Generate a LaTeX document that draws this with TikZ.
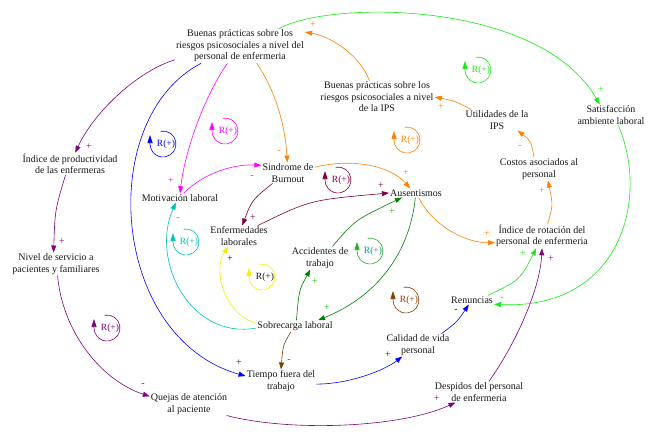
\documentclass[tikz,border=0pt]{standalone}
\usepackage{fontspec}
\setmainfont{Liberation Serif}
\usetikzlibrary{arrows.meta}
\definecolor{clime}{RGB}{20,235,20}
\definecolor{corange}{RGB}{255,128,0}
\definecolor{cmagenta}{RGB}{255,0,255}
\definecolor{cpurple}{RGB}{128,0,128}
\definecolor{cblue}{RGB}{0,0,255}
\definecolor{cdkgreen}{RGB}{0,128,0}
\definecolor{cbrown}{RGB}{128,64,0}
\definecolor{cmaroon}{RGB}{128,0,64}
\definecolor{ccyan}{RGB}{0,192,192}
\definecolor{cyellow}{RGB}{240,240,0}
\definecolor{cloopgreen}{RGB}{40,170,40}
\definecolor{cteal}{RGB}{0,160,128}
\definecolor{ctext}{RGB}{25,25,25}

% reinforcing-loop marker: name, x, y, circle colour, text colour
\newcommand\rloopmark[5]{%
  \node[rtxt,text=#5] (#1) at (#2+3,#3) {R(+)};
  \draw[#4,line width=0.6pt,-{Triangle[length=8pt,width=5pt]}]
    (#2,#3) ++(100:13pt) arc[start angle=100,end angle=-180,radius=13pt] -- ++(0,-9);
}

\begin{document}
\begin{tikzpicture}[x=1pt,y=-1pt,
  lbl/.style={align=center,font=\fontsize{10}{11.5}\selectfont,inner sep=1pt,text=ctext},
  sgn/.style={font=\fontsize{10}{10}\selectfont,inner sep=0pt},
  conn/.style={line width=0.6pt,-{Triangle[length=7pt,width=5pt]}},
  rtxt/.style={font=\fontsize{9.5}{10}\selectfont,inner sep=0pt}]
\useasboundingbox[fill=white] (0,0) rectangle (652,431);

% variables
\node[lbl] (b1) at (240,46) {Buenas prácticas sobre los\\riesgos psicosociales a nivel del\\personal de enfermeria};
\node[lbl] (b2) at (377,97) {Buenas prácticas sobre los\\riesgos psicosociales a nivel\\de la IPS};
\node[lbl] (util) at (497,120) {Utilidades de la\\IPS};
\node[lbl] (satis) at (611,115) {Satisfacción\\ambiente laboral};
\node[lbl] (costos) at (539,169) {Costos asociados al\\personal};
\node[lbl] (rot) at (542,236) {Índice de rotación del\\personal de enfermeria};
\node[lbl] (aus) at (416,193) {Ausentismos};
\node[lbl] (sind) at (288,173) {Sindrome de\\Burnout};
\node[lbl] (mot) at (180,198) {Motivación laboral};
\node[lbl] (enf) at (239,236) {Enfermedades\\laborales};
\node[lbl] (prod) at (70,164) {Índice de productividad\\de las enfermeras};
\node[lbl] (niv) at (56,264) {Nivel de servicio a\\pacientes y familiares};
\node[lbl] (acc) at (320,258) {Accidentes de\\trabajo};
\node[lbl] (sob) at (295,326) {Sobrecarga laboral};
\node[lbl] (tiem) at (281,381) {Tiempo fuera del\\trabajo};
\node[lbl] (cal) at (418,345) {Calidad de vida\\personal};
\node[lbl] (ren) at (472,300) {Renuncias};
\node[lbl] (desp) at (479,392) {Despidos del personal\\de enfermeria};
\node[lbl] (quej) at (189,404) {Quejas de atención\\al paciente};

% causal links
\draw[conn,clime] (b1.24) .. controls (330,0) and (540,0) .. (satis.137);
\draw[conn,corange] (b2.115) .. controls (360,55) and (330,36) .. (b1.12);
\draw[conn,corange] (util.158) .. controls (455,101) .. (b2.0);
\draw[conn,corange] (costos.113) .. controls (531,141) .. (util.-27);
\draw[conn,corange] (rot.65) .. controls (553,205) .. (costos.-52);
\draw[conn,corange] (aus.-60) .. controls (432,225) and (465,243) .. (rot.188);
\draw[conn,corange] (sind.12) .. controls (350,158) and (390,165) .. (aus.142);
\draw[conn,corange] (b1.-46) .. controls (272,85) and (285,120) .. (sind.94);
\draw[conn,cmagenta] (b1.-126) .. controls (205,95) and (185,150) .. (mot.90);
\draw[conn,cmagenta] (mot.53) .. controls (205,172) and (235,164) .. (sind.164);
\draw[conn,cpurple] (b1.-168) .. controls (140,70) and (95,110) .. (prod.65);
\draw[conn,cpurple] (prod.-112) .. controls (55,210) .. (niv.102);
\draw[conn,cpurple] (niv.-82) .. controls (62,330) and (100,380) .. (quej.169);
\draw[conn,cpurple] (quej.-17) .. controls (290,432) and (400,428) .. (desp.204);
\draw[conn,cpurple] (desp.47) .. controls (515,345) and (540,290) .. (rot.-90);
\draw[conn,cblue] (b1.-156) .. controls (95,118) and (110,338) .. (tiem.172);
\draw[conn,cblue] (tiem.-5) .. controls (350,384) and (385,370) .. (cal.216);
\draw[conn,cblue] (cal.26) .. controls (457,322) .. (ren.-125);
\draw[conn,clime] (satis.-55) .. controls (650,200) and (620,310) .. (ren.-11);
\draw[conn,clime] (ren.16) .. controls (520,280) .. (rot.-115);
\draw[conn,cdkgreen] (acc.43) .. controls (355,220) .. (aus.198);
\draw[conn,cdkgreen] (aus.-98) .. controls (410,250) and (380,295) .. (sob.14);
\draw[conn,cdkgreen] (sob.76) .. controls (299,290) .. (acc.-130);
\draw[conn,cbrown] (sob.-125) .. controls (283,345) .. (tiem.90);
\draw[conn,cyellow] (sob.176) .. controls (225,315) and (212,270) .. (enf.-135);
\draw[conn,ccyan] (sob.183) .. controls (190,340) and (150,260) .. (mot.-131);
\draw[conn,cmaroon] (sind.-146) .. controls (252,200) .. (enf.73);
\draw[conn,cmaroon] (enf.29) .. controls (310,200) .. (aus.180);

% link polarities
\node[sgn,text=clime] (s1) at (601,90) {+};
\node[sgn,text=corange] (s2) at (313,25) {+};
\node[sgn,text=corange] (s3) at (441,107) {+};
\node[sgn,text=corange] (s4) at (520,147) {-};
\node[sgn,text=corange] (s5) at (542,191) {+};
\node[sgn,text=corange] (s6) at (487,234) {+};
\node[sgn,text=corange] (s7) at (406,173) {+};
\node[sgn,text=corange] (s8) at (279,152) {-};
\node[sgn,text=cmagenta] (s9) at (171,181) {+};
\node[sgn,text=cmagenta] (s10) at (252,177) {-};
\node[sgn,text=cpurple] (s11) at (89,147) {+};
\node[sgn,text=cpurple] (s12) at (62,242) {+};
\node[sgn,text=cpurple] (s13) at (143,385) {-};
\node[sgn,text=cpurple] (s14) at (437,399) {+};
\node[sgn,text=cpurple] (s15) at (551,259) {+};
\node[sgn,text=ctext] (s16) at (239,363) {+};
\node[sgn,text=ctext] (s17) at (388,355) {+};
\node[sgn,text=ctext] (s18) at (456,311) {-};
\node[sgn,text=clime] (s19) at (502,299) {-};
\node[sgn,text=clime] (s20) at (523,254) {+};
\node[sgn,text=cloopgreen] (s21) at (392,212) {+};
\node[sgn,text=cloopgreen] (s22) at (327,308) {+};
\node[sgn,text=cloopgreen] (s23) at (315,282) {+};
\node[sgn,text=cbrown] (s24) at (289,361) {-};
\node[sgn,text=ctext] (s25) at (230,259) {+};
\node[sgn,text=ccyan] (s26) at (178,219) {-};
\node[sgn,text=cmaroon] (s27) at (253,218) {+};
\node[sgn,text=cmaroon] (s28) at (381,186) {+};

% reinforcing loops
\rloopmark{r1}{478}{70}{clime}{clime}
\rloopmark{r2}{407}{140}{corange}{corange}
\rloopmark{r3}{163}{144}{cblue}{cblue}
\rloopmark{r4}{225}{131}{cmagenta}{cmagenta}
\rloopmark{r5}{338}{180}{cmaroon}{cmaroon}
\rloopmark{r6}{186}{242}{ccyan}{ccyan}
\rloopmark{r7}{262}{277}{cyellow}{ctext}
\rloopmark{r8}{370}{251}{cloopgreen}{cteal}
\rloopmark{r9}{406}{300}{cbrown}{cbrown}
\rloopmark{r10}{107}{328}{cpurple}{cpurple}
\end{tikzpicture}
\end{document}
